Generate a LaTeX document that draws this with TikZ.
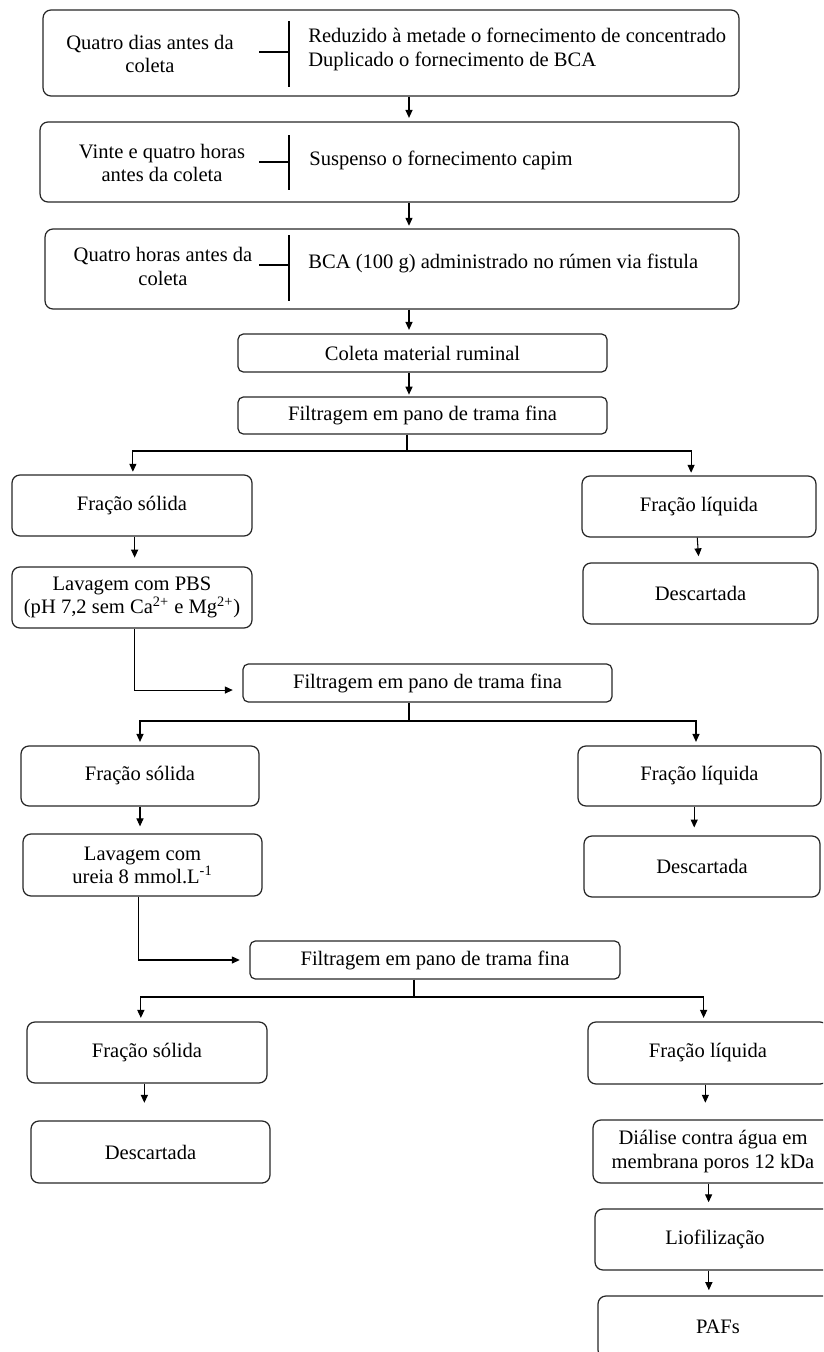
\documentclass[tikz,border=0pt]{standalone}
\usepackage{fontspec}
\setmainfont{Liberation Serif}
\usetikzlibrary{arrows.meta}

\begin{document}
\begin{tikzpicture}[x=0.02cm, y=-0.02cm,
    every node/.style={font=\fontsize{11.7}{13.2}\selectfont},
    stage/.style={draw=black!85, line width=0.7pt, rounded corners=4.5pt, inner sep=0pt, align=center},
    thin stage/.style={stage, rounded corners=3pt},
    note/.style={inner sep=0pt, align=center},
    link/.style={line width=0.6pt},
    flow/.style={link, -{Triangle[length=4.5pt,width=4pt]}}]
  % Pixel grid of the page: x to the right, y downwards.
  \useasboundingbox (0,0) rectangle (823,1352);
  \clip (0,0) rectangle (823,1352);

  % Preparation of the animal, one box per time step.
  \node[stage, minimum width=13.92cm, minimum height=1.72cm] (step1) at (391,53) {};
  \node[note] (when1) at (150,54) {Quatro dias antes da\\coleta};
  \node[note, anchor=west, align=left] (what1) at (308,49.5)
    {Reduzido à metade o fornecimento de concentrado\\Duplicado o fornecimento de BCA};
  \draw[link] (289,21) -- (289,87) (259,52) -- (289,52);

  \node[stage, minimum width=13.98cm, minimum height=1.6cm] (step2) at (389.5,162) {};
  \node[note] (when2) at (162,163) {Vinte e quatro horas\\antes da coleta};
  \node[note, anchor=west] (what2) at (309,160) {Suspenso o fornecimento capim};
  \draw[link] (289,135) -- (289,190) (259,162) -- (289,162);

  \node[stage, minimum width=13.88cm, minimum height=1.6cm] (step3) at (392,269) {};
  \node[note] (when3) at (163,266.5) {Quatro horas antes da\\coleta};
  \node[note, anchor=west] (what3) at (308,263) {BCA (100 g) administrado no rúmen via fistula};
  \draw[link] (289,235) -- (289,301) (259,265) -- (289,265);

  % Collection and first filtering.
  \node[thin stage, minimum width=7.38cm, minimum height=0.76cm] (coleta) at (422.5,353) {Coleta material ruminal};
  \node[thin stage, minimum width=7.38cm, minimum height=0.74cm] (filt1) at (422.5,415.5) {Filtragem em pano de trama fina};
  \node[stage, minimum width=4.8cm, minimum height=1.22cm] (solid1) at (132,505.5) {Fração sólida};
  \node[stage, minimum width=4.68cm, minimum height=1.22cm] (liquid1) at (699,506.5) {Fração líquida};
  \node[stage, minimum width=4.8cm, minimum height=1.22cm] (wash1) at (132,597.5)
    {Lavagem com PBS\\(pH 7,2 sem Ca\textsuperscript{2+} e Mg\textsuperscript{2+})};
  \node[stage, minimum width=4.7cm, minimum height=1.22cm] (drop1) at (700.5,593.5) {Descartada};

  % Second filtering.
  \node[thin stage, minimum width=7.38cm, minimum height=0.76cm] (filt2) at (427.5,683) {Filtragem em pano de trama fina};
  \node[stage, minimum width=4.76cm, minimum height=1.2cm] (solid2) at (140,776) {Fração sólida};
  \node[stage, minimum width=4.86cm, minimum height=1.2cm] (liquid2) at (699.5,776) {Fração líquida};
  \node[stage, minimum width=4.78cm, minimum height=1.24cm] (wash2) at (142.5,865)
    {Lavagem com\\ureia 8 mmol.L\textsuperscript{-1}};
  \node[stage, minimum width=4.72cm, minimum height=1.22cm] (drop2) at (702,866.5) {Descartada};

  % Third filtering and the liquid path to the PAFs.
  \node[thin stage, minimum width=7.4cm, minimum height=0.76cm] (filt3) at (435,960) {Filtragem em pano de trama fina};
  \node[stage, minimum width=4.8cm, minimum height=1.22cm] (solid3) at (147,1052.5) {Fração sólida};
  \node[stage, minimum width=4.78cm, minimum height=1.24cm] (drop3) at (150.5,1152) {Descartada};
  \node[stage, minimum width=4.8cm, minimum height=1.24cm] (liquid3) at (708,1053) {Fração líquida};
  \node[stage, minimum width=4.8cm, minimum height=1.26cm] (dialysis) at (713,1151.5)
    {Diálise contra água em\\membrana poros 12 kDa};
  \node[stage, minimum width=4.8cm, minimum height=1.22cm] (freeze) at (715,1239.5) {Liofilização};
  \node[stage, minimum width=4.8cm, minimum height=1.24cm] (pafs) at (718,1327) {PAFs};

  % Connectors.
  \coordinate (spine) at (409,0);
  \draw[flow, shorten >=2pt] (step1.south -| spine) -- (step2.north -| spine);
  \draw[flow, shorten >=1.5pt] (step2.south -| spine) -- (step3.north -| spine);
  \draw[flow, shorten >=2pt] (step3.south -| spine) -- (coleta.north -| spine);
  \draw[flow, shorten >=1pt] (coleta.south -| spine) -- (filt1.north -| spine);

  \coordinate (fork1) at (407,451);
  \draw[link] (filt1.south -| fork1) -- (fork1);
  \draw[flow, shorten >=1.5pt] (fork1) -| ([xshift=0.5pt]solid1.north);
  \draw[flow, shorten >=1.5pt] (fork1) -| ([xshift=-4.5pt]liquid1.north);
  \draw[flow, shorten >=5pt] ([xshift=1.5pt]solid1.south) -- ([xshift=1.5pt]wash1.north);
  \draw[flow, shorten >=3.5pt] ([xshift=-1pt]liquid1.south) -- (liquid1.south |- drop1.north);
  \draw[flow, shorten >=5.5pt] ([xshift=1.5pt]wash1.south) |- ([yshift=-4pt]filt2.west);

  \coordinate (fork2) at (409,721);
  \draw[link] (filt2.south -| fork2) -- (fork2);
  \draw[flow, shorten >=2pt] (fork2) -| (solid2.north);
  \draw[flow, shorten >=2pt] (fork2) -| ([xshift=-2pt]liquid2.north);
  \draw[flow, shorten >=4pt] (solid2.south) -- (solid2.south |- wash2.north);
  \draw[flow, shorten >=4.5pt] ([xshift=-3pt]liquid2.south) -- ([xshift=-3pt]liquid2.south |- drop2.north);
  \draw[flow, shorten >=5.5pt] ([xshift=-2.5pt]wash2.south) |- (filt3.west);

  \coordinate (fork3) at (414,997);
  \draw[link] (filt3.south -| fork3) -- (fork3);
  \draw[flow, shorten >=2pt] (fork3) -| ([xshift=-3.5pt]solid3.north);
  \draw[flow, shorten >=2pt] (fork3) -| ([xshift=-2.5pt]liquid3.north);
  \draw[flow, shorten >=10pt] ([xshift=-1.5pt]solid3.south) -- ([xshift=-1.5pt]solid3.south |- drop3.north);
  \draw[flow, shorten >=9.5pt] ([xshift=-1.5pt]liquid3.south) -- ([xshift=-1.5pt]liquid3.south |- dialysis.north);
  \draw[flow, shorten >=3.5pt] ([xshift=-2.5pt]dialysis.south) -- ([xshift=-2.5pt]dialysis.south |- freeze.north);
  \draw[flow, shorten >=3pt] ([xshift=-3.5pt]freeze.south) -- ([xshift=-3.5pt]freeze.south |- pafs.north);
\end{tikzpicture}
\end{document}
